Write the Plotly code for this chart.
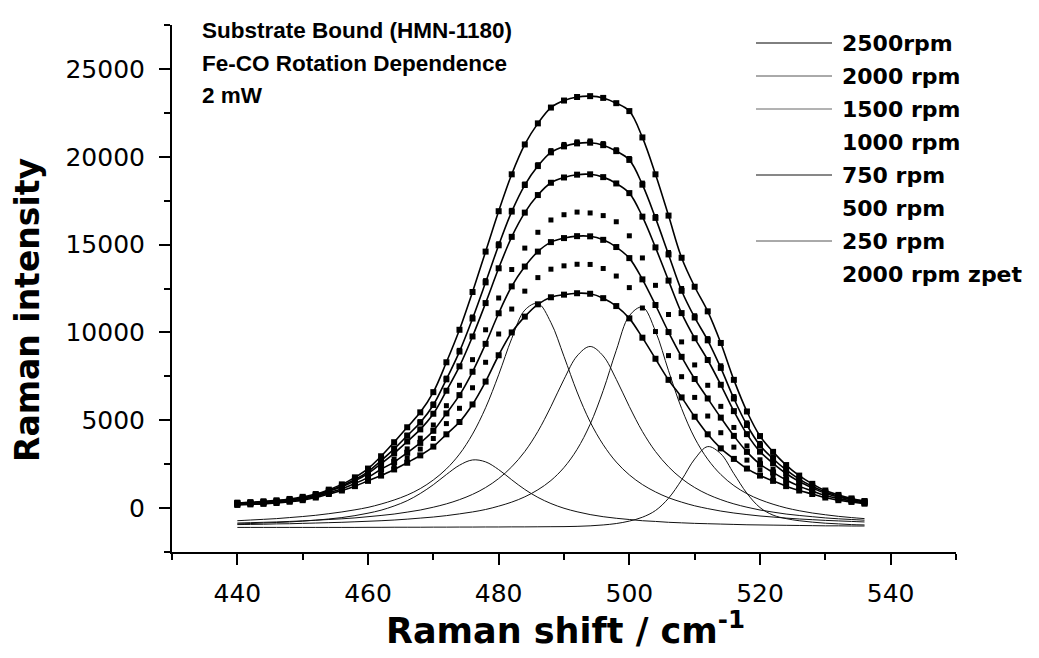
import plotly.graph_objects as go

# ---------------- data ----------------
shift = [440, 442, 444, 446, 448, 450, 452, 454, 456, 458, 460, 462, 464, 466, 468, 470,
         472, 474, 476, 478, 480, 482, 484, 486, 488, 490, 492, 494, 496, 498, 500, 502,
         504, 506, 508, 510, 512, 514, 516, 518, 520, 522, 524, 526, 528, 530, 532, 534, 536]

rpm2500 = [300, 330, 380, 440, 520, 640, 800, 1050, 1350, 1750, 2250, 2950, 3750, 4600, 5450, 6600,
           8300, 10150, 12300, 14600, 16900, 19000, 20700, 21900, 22800, 23200, 23400, 23450, 23350, 23050, 22600, 21100,
           19000, 16650, 14250, 12600, 11200, 9400, 7300, 5500, 4100, 3200, 2450, 1850, 1380, 1000, 750, 550, 400]
rpm2000 = [280, 310, 350, 400, 480, 590, 750, 990, 1270, 1630, 2080, 2700, 3370, 4120, 4870, 5870,
           7330, 8910, 10790, 12850, 14960, 16880, 18390, 19470, 20250, 20590, 20760, 20800, 20660, 20320, 19820, 18410,
           16520, 14440, 12370, 10850, 9550, 7980, 6240, 4730, 3570, 2810, 2170, 1650, 1240, 910, 680, 500, 370]
rpm1500 = [260, 290, 330, 380, 450, 560, 720, 950, 1210, 1550, 1970, 2530, 3120, 3790, 4480, 5370,
           6680, 8070, 9770, 11670, 13650, 15440, 16820, 17820, 18520, 18820, 18980, 19000, 18840, 18480, 17930, 16590,
           14840, 12950, 11100, 9670, 8430, 7020, 5520, 4210, 3210, 2550, 1970, 1510, 1150, 840, 630, 470, 340]
rpm1000 = [240, 270, 300, 350, 420, 520, 680, 900, 1140, 1450, 1830, 2320, 2790, 3370, 3980, 4730,
           5830, 6990, 8450, 10150, 11960, 13580, 14800, 15700, 16400, 16700, 16850, 16800, 16650, 16300, 15500, 14240,
           12680, 11020, 9460, 8150, 6990, 5790, 4590, 3540, 2750, 2210, 1730, 1340, 1030, 760, 570, 430, 310]
rpm750 = [220, 250, 280, 330, 400, 500, 660, 870, 1100, 1400, 1750, 2210, 2620, 3150, 3710, 4400,
          5390, 6430, 7760, 9350, 11090, 12620, 13750, 14600, 15140, 15370, 15480, 15470, 15270, 14860, 14230, 13020,
          11560, 10020, 8610, 7350, 6240, 5150, 4110, 3200, 2500, 2030, 1600, 1250, 970, 720, 540, 410, 290]
rpm500 = [200, 230, 260, 310, 380, 470, 630, 840, 1050, 1320, 1650, 2060, 2390, 2850, 3360, 3960,
          4810, 5680, 6850, 8300, 9910, 11330, 12350, 13120, 13600, 13790, 13880, 13870, 13640, 13210, 12550, 11390,
          10050, 8680, 7480, 6300, 5240, 4290, 3470, 2730, 2180, 1790, 1430, 1130, 890, 660, 490, 380, 270]
rpm250 = [180, 210, 240, 290, 360, 450, 600, 800, 1000, 1250, 1550, 1850, 2200, 2580, 3000, 3500,
          4200, 4900, 5900, 7200, 8700, 10000, 10900, 11600, 12000, 12150, 12230, 12200, 11950, 11500, 10800, 9700,
          8500, 7300, 6300, 5200, 4200, 3400, 2800, 2250, 1850, 1550, 1250, 1000, 800, 600, 450, 350, 250]
rpm2000_zpet = [330, 350, 390, 440, 520, 620, 790, 1020, 1300, 1660, 2120, 2740, 3420, 4150, 4920, 5930,
                7400, 8980, 10880, 12950, 15050, 16950, 18450, 19550, 20350, 20700, 20850, 20900, 20750, 20400, 19900, 18500,
                16600, 14550, 12500, 10950, 9650, 8100, 6350, 4850, 3680, 2900, 2250, 1720, 1300, 960, 720, 540, 400]

# fitted component bands
band476 = [-900, -880, -850, -820, -790, -740, -690, -620, -540, -430, -290, -120, 120, 420, 830, 1330,
           1910, 2440, 2740, 2630, 2190, 1610, 1060, 610, 260, -10, -210, -370, -490, -580, -650, -720,
           -760, -810, -840, -870, -890, -910, -930, -950, -960, -970, -980, -990, -1000, -1010, -1010, -1020, -1020]
band486 = [-720, -680, -640, -600, -540, -480, -410, -320, -220, -100, 40, 230, 460, 740, 1110, 1600,
           2230, 3070, 4210, 5710, 7590, 9650, 11270, 11650, 10560, 8630, 6610, 4910, 3610, 2620, 1890, 1340,
           920, 590, 340, 130, -30, -170, -280, -370, -450, -510, -570, -620, -660, -700, -730, -760, -790]
band494 = [-850, -830, -810, -790, -760, -730, -690, -650, -610, -560, -490, -420, -340, -230, -110, 50,
           240, 480, 780, 1170, 1680, 2350, 3220, 4360, 5780, 7330, 8660, 9200, 8660, 7330, 5780, 4360,
           3220, 2350, 1680, 1170, 780, 480, 240, 50, -110, -230, -340, -420, -490, -560, -610, -650, -690]
band502 = [-940, -930, -920, -900, -890, -870, -850, -830, -810, -780, -750, -720, -680, -630, -570, -510,
           -430, -330, -220, -80, 110, 340, 640, 1040, 1570, 2310, 3340, 4770, 6690, 8980, 10950, 11440,
           10070, 7820, 5670, 3990, 2780, 1910, 1280, 820, 480, 220, 10, -150, -280, -380, -470, -540, -600]
band512 = [-1100, -1100, -1100, -1100, -1100, -1100, -1100, -1100, -1100, -1100, -1095, -1095, -1090, -1090, -1090, -1085,
           -1085, -1080, -1080, -1075, -1075, -1070, -1070, -1065, -1060, -1055, -1040, -1010, -960, -880, -740, -520,
           -140, 560, 1600, 2790, 3500, 3090, 1960, 840, 30, -400, -600, -720, -800, -860, -900, -940, -960]

legend_labels = ["2500rpm", "2000 rpm", "1500 rpm", "1000 rpm", "750 rpm", "500 rpm", "250 rpm", "2000 rpm zpet"]
title_lines = ["Substrate Bound (HMN-1180)", "Fe-CO Rotation Dependence", "2 mW"]

# ---------------- figure ----------------
fig = go.Figure()

for comp in [band476, band486, band494, band502, band512]:
    fig.add_trace(go.Scatter(x=shift, y=comp, mode="lines",
                             line=dict(color="#111111", width=1, shape="spline"),
                             showlegend=False, hoverinfo="skip"))

for ser in [rpm1000, rpm500, rpm2000_zpet]:
    fig.add_trace(go.Scatter(x=shift, y=ser, mode="markers",
                             marker=dict(symbol="square", size=5, color="black"),
                             showlegend=False))

for ser in [rpm2500, rpm2000, rpm1500, rpm750, rpm250]:
    fig.add_trace(go.Scatter(x=shift, y=ser, mode="lines+markers",
                             line=dict(color="black", width=1.6, shape="spline"),
                             marker=dict(symbol="square", size=6, color="black"),
                             showlegend=False))

# plot area in pixels: x 172..956, y 25..552
L, R, T, B = 172, 956, 25, 552
W, H = R - L, B - T
def px(xp):
    return (xp - L) / W
def py(yp):
    return (B - yp) / H

FONT = "DejaVu Sans"
TITLE_FONT = "Liberation Sans, Arial"
ann = []
for i, t in enumerate(title_lines):
    ann.append(dict(text="<b>%s</b>" % t, x=px(200), y=py(31 + 32 * i), xref="paper", yref="paper",
                    xanchor="left", yanchor="middle", showarrow=False,
                    font=dict(family=TITLE_FONT, size=22.5, color="black")))

legend_has_line = [True, True, True, False, True, False, True, False]
legend_line_color = ["#000000", "#555555", "#666666", None, "#111111", None, "#555555", None]
shapes = []
for i, lab in enumerate(legend_labels):
    yc = 43 + 33 * i
    ann.append(dict(text="<b>%s</b>" % lab, x=px(840), y=py(yc), xref="paper", yref="paper",
                    xanchor="left", yanchor="middle", showarrow=False,
                    font=dict(family=FONT, size=22, color="black")))
    if legend_has_line[i]:
        shapes.append(dict(type="line", xref="paper", yref="paper",
                           x0=px(756), x1=px(832), y0=py(yc), y1=py(yc),
                           line=dict(color=legend_line_color[i], width=1)))

ann.append(dict(text="<b>Raman intensity</b>", x=px(27), y=py(310), xref="paper", yref="paper",
                xanchor="center", yanchor="middle", textangle=-90, showarrow=False,
                font=dict(family=FONT, size=33, color="black")))
ann.append(dict(text="<b>Raman shift / cm<sup>-1</sup></b>", x=px(565), y=py(628), xref="paper", yref="paper",
                xanchor="center", yanchor="middle", showarrow=False,
                font=dict(family=FONT, size=35, color="black")))

fig.update_layout(
    width=1039, height=658,
    margin=dict(l=L, r=1039 - R, t=T, b=658 - B),
    paper_bgcolor="white", plot_bgcolor="white",
    annotations=ann, shapes=shapes,
    showlegend=False,
)
fig.update_xaxes(range=[430, 550], tick0=440, dtick=20, showgrid=False, zeroline=False,
                 showline=True, linecolor="black", linewidth=2,
                 ticks="outside", ticklen=11, tickwidth=2, tickcolor="black",
                 ticklabelstandoff=7,
                 minor=dict(dtick=10, ticks="outside", ticklen=6, tickwidth=2, tickcolor="black", showgrid=False),
                 tickfont=dict(family=FONT, size=25, color="black"))
fig.update_yaxes(range=[-2500, 27500], tick0=0, dtick=5000, tickformat="d", showgrid=False, zeroline=False,
                 showline=True, linecolor="black", linewidth=2,
                 ticks="outside", ticklen=11, tickwidth=2, tickcolor="black",
                 ticklabelstandoff=9,
                 minor=dict(dtick=2500, ticks="outside", ticklen=6, tickwidth=2, tickcolor="black", showgrid=False),
                 tickfont=dict(family=FONT, size=25, color="black"))

fig.write_html("out.html")
